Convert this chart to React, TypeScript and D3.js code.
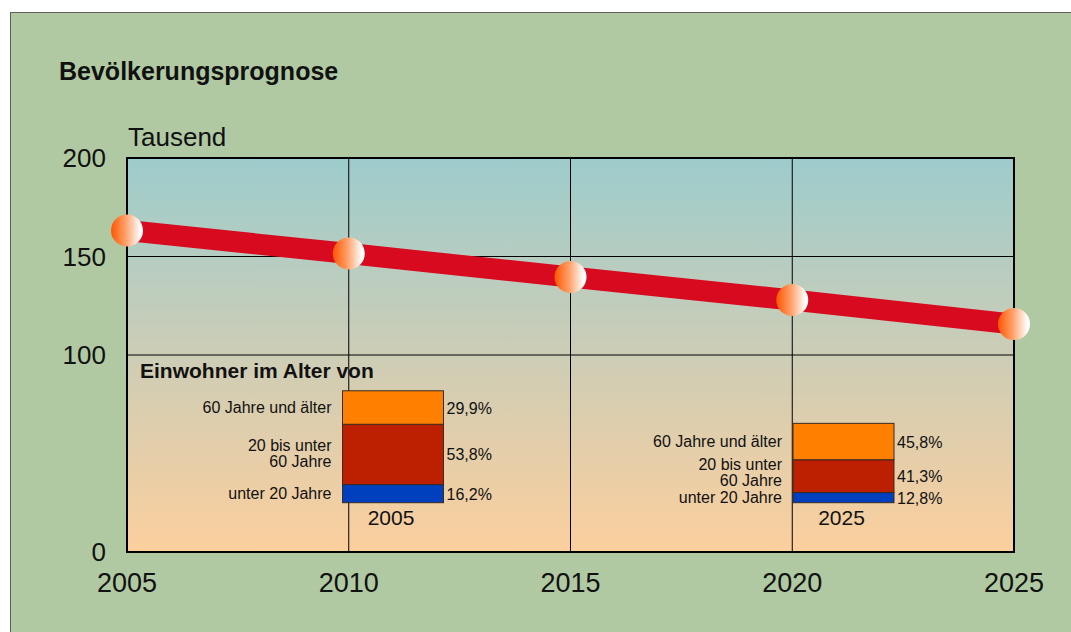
import React from "react";
import * as d3 from "d3";

const years = [2005, 2010, 2015, 2020, 2025];
const population = [163.2, 151.5, 139.6, 127.9, 115.7];
const yTickValues = [0, 100, 150, 200];
const yGridValues = [100, 150];
const xGridValues = [2010, 2015, 2020];

const ageGroups = ["unter 20 Jahre", "20 bis unter|60 Jahre", "60 Jahre und älter"];
const insetYears = ["2005", "2025"];
const insetPopulation = [163.2, 115.7];
const share2005 = [16.2, 53.8, 29.9];
const share2025 = [12.8, 41.3, 45.8];
const shareLabels2005 = ["16,2%", "53,8%", "29,9%"];
const shareLabels2025 = ["12,8%", "41,3%", "45,8%"];
const segmentColors = ["#0040BF", "#BD2000", "#FF8000"];

const W = 1071;
const H = 632;
const FONT = "Liberation Sans, Arial, Helvetica, sans-serif";

export default function App() {
  const x = d3.scaleLinear().domain([2005, 2025]).range([127, 1014]);
  const y = d3.scaleLinear().domain([0, 200]).range([552, 158]);
  const insetY = d3.scaleLinear().domain([0, 200]).range([0, 137.3]);
  const insetX = d3.scalePoint<string>().domain(insetYears).range([393, 843.5]);
  const insetBase = 502.7;
  const barW = 101;

  const line = d3
    .line<number>()
    .x((_, i) => x(years[i]))
    .y((d) => y(d));

  const shares = [share2005, share2025];
  const shareLabels = [shareLabels2005, shareLabels2025];
  const lineHeights = [16, 16];
  const labelShift = [0, -3];

  return (
    <div style={{ position: "absolute", left: 0, top: 0 }}>
      <svg width={W} height={H} style={{ display: "block", fontFamily: FONT }}>
        <defs>
          <linearGradient id="plotBg" x1="0" y1="0" x2="0" y2="1">
            <stop offset="0" stopColor="#9DCCCC" />
            <stop offset="0.5" stopColor="#CDCDB6" />
            <stop offset="1" stopColor="#FCCF9D" />
          </linearGradient>
          <linearGradient id="marker" x1="0" y1="0" x2="1" y2="0">
            <stop offset="0" stopColor="#FF5500" />
            <stop offset="0.45" stopColor="#FF9F68" />
            <stop offset="0.92" stopColor="#FFFFFF" />
            <stop offset="1" stopColor="#FFFFFF" />
          </linearGradient>
        </defs>
        <rect x={0} y={0} width={W} height={H} fill="#FFFFFF" />
        <rect x={10.5} y={12.5} width={1200} height={800} fill="#B0C9A2" stroke="#5A625A" strokeWidth={1} />

        <text x={59} y={80} fontSize={25} fontWeight="bold" fill="#111">
          Bevölkerungsprognose
        </text>
        <text x={128} y={146} fontSize={26} fill="#111">
          Tausend
        </text>

        <rect x={x(2005)} y={y(200)} width={x(2025) - x(2005)} height={y(0) - y(200)} fill="url(#plotBg)" />

        {yGridValues.map((v) => (
          <line key={"hg" + v} x1={x(2005)} x2={x(2025)} y1={y(v)} y2={y(v)} stroke="#000" strokeWidth={1} />
        ))}
        {xGridValues.map((v) => (
          <line key={"vg" + v} x1={x(v)} x2={x(v)} y1={y(200)} y2={y(0)} stroke="#000" strokeWidth={1} />
        ))}
        <rect
          x={x(2005)}
          y={y(200)}
          width={x(2025) - x(2005)}
          height={y(0) - y(200)}
          fill="none"
          stroke="#000"
          strokeWidth={2}
        />

        {yTickValues.map((v) => (
          <text key={"yt" + v} x={106} y={y(v)} dy="0.36em" fontSize={26} textAnchor="end" fill="#111">
            {v}
          </text>
        ))}
        {years.map((v) => (
          <text key={"xt" + v} x={x(v)} y={592} fontSize={27} textAnchor="middle" fill="#111">
            {v}
          </text>
        ))}

        <text x={140} y={378} fontSize={21} fontWeight="bold" fill="#111">
          Einwohner im Alter von
        </text>

        {insetYears.map((yr, bi) => {
          const cx = insetX(yr) as number;
          const total = insetY(insetPopulation[bi]);
          let acc = 0;
          const segs = shares[bi].map((s, si) => {
            const h = (total * s) / 100;
            const y1 = insetBase - acc - h;
            acc += h;
            return { y1, h, si };
          });
          return (
            <g key={"inset" + yr}>
              {segs.map(({ y1, h, si }) => {
                const mid = y1 + h / 2;
                const parts = ageGroups[si].split("|");
                const lh = lineHeights[bi];
                const lx = cx - barW / 2 - 11;
                return (
                  <g key={si}>
                    <rect
                      x={cx - barW / 2}
                      y={y1}
                      width={barW}
                      height={h}
                      fill={segmentColors[si]}
                      stroke="#3A2A20"
                      strokeWidth={1}
                    />
                    <text x={cx + barW / 2 + 3} y={mid + 6} fontSize={16} fill="#111">
                      {shareLabels[bi][si]}
                    </text>
                    <text fontSize={16} textAnchor="end" fill="#111">
                      {parts.map((p, pi) => (
                        <tspan
                          key={pi}
                          x={lx}
                          y={mid + 5 + labelShift[bi] * (parts.length - 1) + (pi - (parts.length - 1) / 2) * lh}
                        >
                          {p}
                        </tspan>
                      ))}
                    </text>
                  </g>
                );
              })}
              <text x={cx - 2} y={insetBase + 22} fontSize={21} textAnchor="middle" fill="#111">
                {yr}
              </text>
            </g>
          );
        })}

        <path d={line(population) || ""} fill="none" stroke="#D70A1F" strokeWidth={21} />
        {population.map((v, i) => (
          <circle key={"m" + i} cx={x(years[i])} cy={y(v)} r={16} fill="url(#marker)" />
        ))}
      </svg>
    </div>
  );
}
